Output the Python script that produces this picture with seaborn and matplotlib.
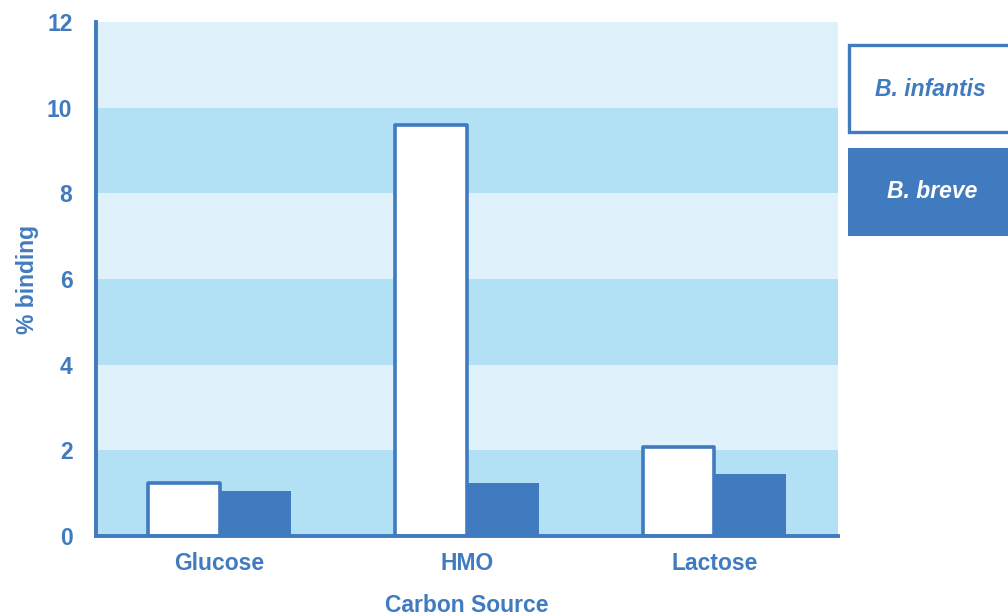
import matplotlib
matplotlib.use("Agg")
import matplotlib.pyplot as plt
from matplotlib.patches import Rectangle
import seaborn as sns
import pandas as pd

# Data
carbon_sources = ["Glucose", "HMO", "Lactose"]
strains = ["B. infantis", "B. breve"]
infantis_binding = [1.24, 9.6, 2.08]
breve_binding = [1.05, 1.24, 1.45]

BLUE = "#417bbf"
BAND_DARK = "#b2e1f5"
BAND_LIGHT = "#dff2fb"
FS = 16.5

df = pd.DataFrame({
    "source": carbon_sources * 2,
    "strain": [strains[0]] * 3 + [strains[1]] * 3,
    "binding": infantis_binding + breve_binding,
})

sns.set_theme(style="white")
plt.rcParams["font.family"] = ["Liberation Sans", "DejaVu Sans"]

fig = plt.figure(figsize=(10.08, 6.16), dpi=100)
ax = fig.add_axes([96 / 1008, 80 / 616, (838 - 96) / 1008, (536 - 22) / 616])

# Alternating background bands
for i, lo in enumerate(range(0, 12, 2)):
    ax.axhspan(lo, lo + 2, color=BAND_DARK if i % 2 == 0 else BAND_LIGHT, lw=0, zorder=0)

sns.barplot(data=df, x="source", y="binding", hue="strain",
            palette=["white", BLUE], width=0.58, ax=ax, legend=False,
            saturation=1, zorder=3)

for bar in ax.containers[0]:
    bar.set_edgecolor(BLUE)
    bar.set_linewidth(2.6)
    bar.set_joinstyle("round")
for bar in ax.containers[1]:
    bar.set_edgecolor(BLUE)
    bar.set_linewidth(0)

ax.set_ylim(0, 12)
ax.set_xlim(-0.5, 2.5)
ax.set_yticks(range(0, 13, 2))
ax.tick_params(axis="both", length=0, colors=BLUE, labelsize=FS)
ax.tick_params(axis="y", pad=17)
ax.tick_params(axis="x", pad=11.5)
for lab in ax.get_xticklabels() + ax.get_yticklabels():
    lab.set_fontweight("bold")
    lab.set_color(BLUE)

ax.set_xlabel("Carbon Source", fontsize=FS, fontweight="bold", color=BLUE, labelpad=14)
ax.set_ylabel("% binding", fontsize=FS, fontweight="bold", color=BLUE, labelpad=6)

for side in ["top", "right"]:
    ax.spines[side].set_visible(False)
for side in ["left", "bottom"]:
    ax.spines[side].set_color(BLUE)
    ax.spines[side].set_linewidth(2.8)
    ax.spines[side].set_zorder(5)

# Legend boxes to the right of the plot
W, H = 1008, 616
fig.add_artist(Rectangle((849 / W, 1 - 132 / H), 170 / W, 87 / H,
                         transform=fig.transFigure, facecolor="white",
                         edgecolor=BLUE, linewidth=2.4, clip_on=False))
fig.add_artist(Rectangle((848 / W, 1 - 236 / H), 170 / W, 88 / H,
                         transform=fig.transFigure, facecolor=BLUE,
                         edgecolor="none", clip_on=False))
fig.text(930 / W, 1 - 90 / H, strains[0], ha="center", va="center",
         fontsize=FS, fontweight="bold", style="italic", color=BLUE)
fig.text(932 / W, 1 - 192 / H, strains[1], ha="center", va="center",
         fontsize=FS, fontweight="bold", style="italic", color="white")

fig.savefig("out.png", dpi=100)
